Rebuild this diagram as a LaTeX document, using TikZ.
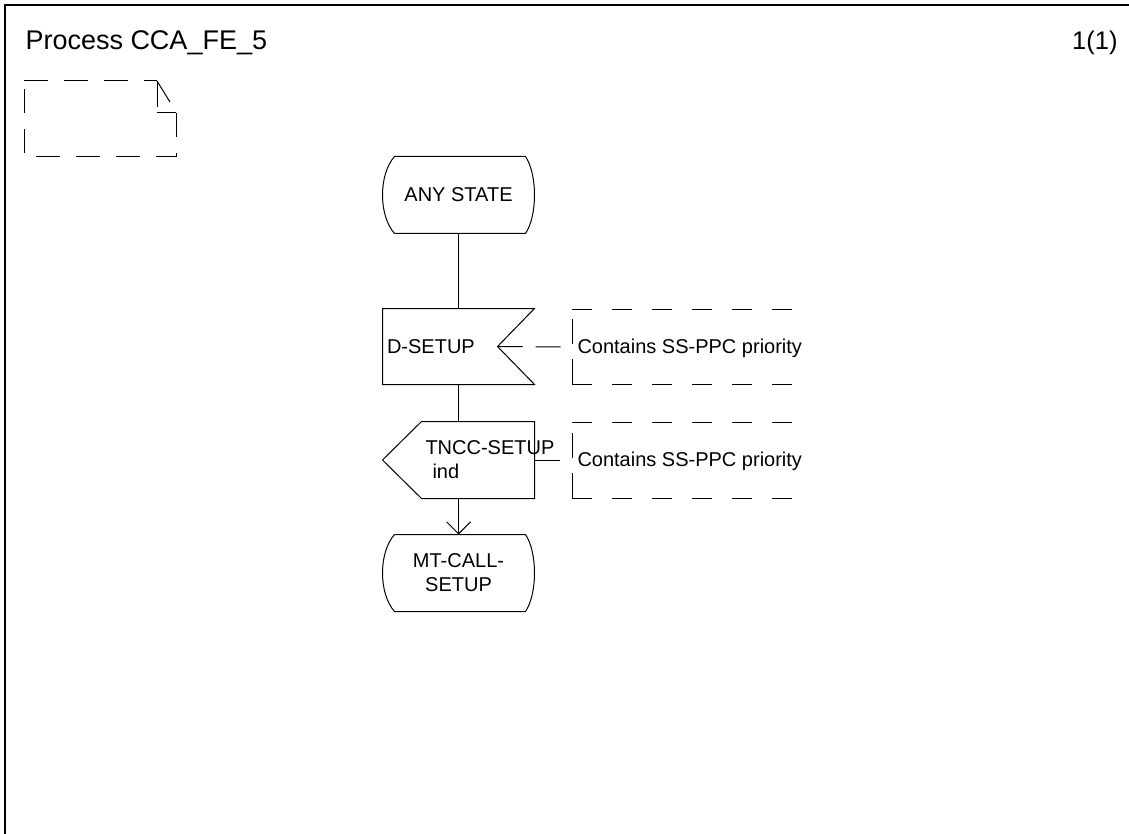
\documentclass[tikz,border=0pt]{standalone}
\usepackage{fontspec}
\setmainfont{Liberation Sans}
\usetikzlibrary{calc,arrows.meta}
\begin{document}
\begin{tikzpicture}[x=1pt,y=1pt,
  line width=1pt,
  body/.style={font=\fontsize{20}{24}\selectfont, inner sep=0pt},
  big/.style={font=\fontsize{25.5}{30}\selectfont, inner sep=0pt},
  box/.style={draw=none, minimum width=151pt, minimum height=76pt, inner sep=0pt},
  dsh/.style={dash pattern=on 24pt off 16pt},
  cdsh/.style={dash pattern=on 20pt off 20pt},
  vdsh/.style={dash pattern=on 25pt off 15pt},
  ldsh/.style={dash pattern=on 25pt off 13pt},
  frame/.style={line width=2pt}]
\useasboundingbox (0,0) rectangle (1129,-834);
% frame
\draw[frame] (5,-834) -- (5,-5) -- (1129,-5);
\node[big, font=\fontsize{27}{32}\selectfont, anchor=base west] (title) at (25,-50) {Process CCA\_FE\_5};
\node[big, anchor=base east] (page) at (1118,-50) {1(1)};
% text extension symbol (dashed)
\draw[dsh] (24,-81) -- (157,-81);
\draw (157,-81) -- (170,-102);
\draw (157,-81) -- (157,-107);
\draw (157,-113) -- (176,-113);
\draw[dsh] (176,-113) -- (176,-157) -- (24,-157) -- (24,-81);
% ANY STATE
\node[box] (any) at (458.5,-195) {};
\node[body] (anyl) at (any.center) {ANY STATE};
\draw ($(any.north west)+(12,0)$) -- ($(any.north east)+(-9,0)$)
  .. controls ($(any.north east)+(3,-18)$) and ($(any.south east)+(3,18)$) .. ($(any.south east)+(-9,0)$)
  -- ($(any.south west)+(12,0)$)
  .. controls ($(any.south west)+(-4,18)$) and ($(any.north west)+(-4,-18)$) .. cycle;
% D-SETUP (input)
\node[box, minimum height=75pt] (ds) at (458.5,-346.5) {};
\coordinate (dsnotch) at ($(ds.east)+(-37,0)$);
\draw (ds.north west) -- (ds.north east) -- (dsnotch) -- (ds.south east) -- (ds.south west) -- cycle;
\node[body, anchor=west] (dsl) at ($(ds.west)+(4,0)$) {D-SETUP};
% comment 1
\coordinate (c1) at (572,-347);
\draw[cdsh] (572,-309) -- (800,-309);
\draw[cdsh] (572,-384) -- (800,-384);
\draw[vdsh] (572,-384) -- (572,-309);
\node[body, anchor=base west] (c1l) at (577,-353) {Contains SS-PPC priority};
\draw[ldsh] (dsnotch) -- (c1);
% TNCC-SETUP ind (output)
\node[box] (tn) at (458.5,-460) {};
\draw ($(tn.north west)+(39,0)$) -- (tn.north east) -- (tn.south east) -- ($(tn.south west)+(39,0)$) -- (tn.west) -- cycle;
\node[body, anchor=west, align=left] (tnl) at (425,-460) {TNCC-SETUP\\\hspace*{7pt}ind};
% comment 2
\coordinate (c2) at (572,-460);
\draw[cdsh] (572,-422) -- (800,-422);
\draw[cdsh] (572,-498) -- (800,-498);
\draw[vdsh] (572,-498) -- (572,-422);
\node[body, anchor=base west] (c2l) at (577,-466) {Contains SS-PPC priority};
\draw[ldsh] (tn.east) -- (c2);
% MT-CALL-SETUP
\node[box] (mt) at (458.5,-573) {};
\node[body, align=center] (mtl) at (458.5,-572.5) {MT-CALL-\\SETUP};
\draw ($(mt.north west)+(12,0)$) -- ($(mt.north east)+(-9,0)$)
  .. controls ($(mt.north east)+(3,-18)$) and ($(mt.south east)+(3,18)$) .. ($(mt.south east)+(-9,0)$)
  -- ($(mt.south west)+(12,0)$)
  .. controls ($(mt.south west)+(-4,18)$) and ($(mt.north west)+(-4,-18)$) .. cycle;
% connectors
\draw (any.south) -- (ds.north);
\draw (ds.south) -- (tn.north);
\draw[-{Straight Barb[length=12pt,width=24pt]}] (tn.south) -- (mt.north);
\end{tikzpicture}
\end{document}
